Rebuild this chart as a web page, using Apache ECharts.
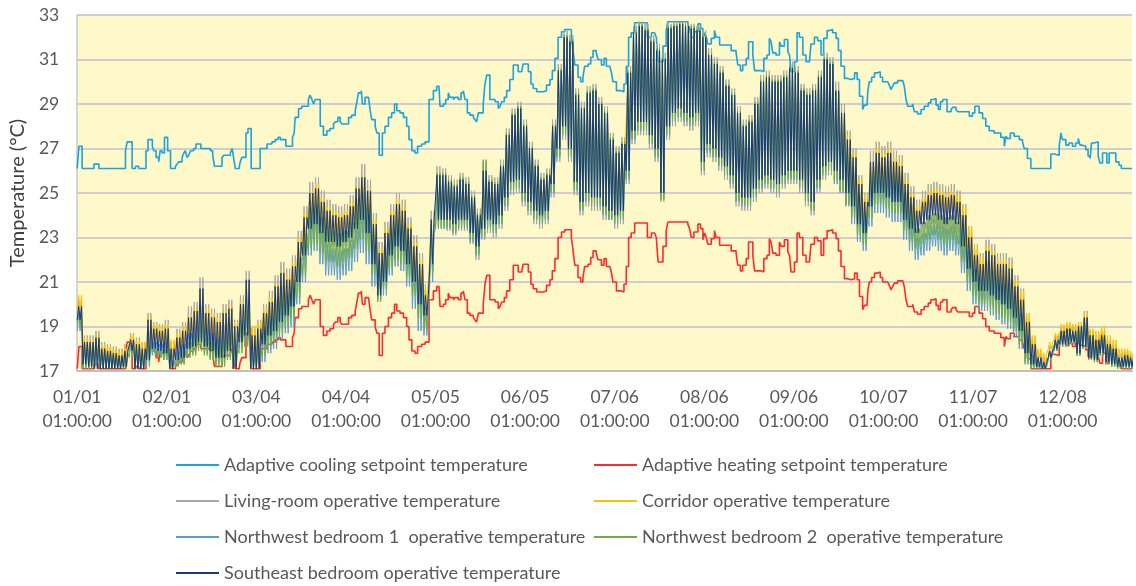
<!DOCTYPE html>
<html><head><meta charset="utf-8">
<script src="https://cdn.jsdelivr.net/npm/echarts/dist/echarts.min.js"></script>
<style>html,body{margin:0;padding:0;background:#fff}#c{width:1136px;height:586px}</style>
</head><body><div id="c"></div>
<script>
// ---- X axis tick labels (every 31 days, 01:00:00) ----
const tickLabels = ['01/01','02/01','03/04','04/04','05/05','06/05','07/06','08/06','09/06','10/07','11/07','12/08'];
const tickTime = '01:00:00';
const tickStepDays = 31;

// ---- Adaptive setpoints: step changes (day of year, value) ----
const setpointDays = [
0,0.6,1.7,5.8,7.5,16.7,17.3,19.0,20.2,21.3,
23.8,24.5,26.0,26.5,27.3,28.2,28.7,29.4,30.2,31.3,
32.3,34.0,34.6,35.1,36.3,36.9,37.4,38.0,38.6,39.2,
40.3,41.1,42.8,46.1,46.9,47.5,50.1,50.7,53.0,53.6,
54.1,54.7,56.1,56.4,57.0,58.4,59.1,60.2,63.3,65.7,
67.4,68.5,69.5,70.3,72.2,74.5,75.1,75.4,76.6,77.7,
80.0,80.6,81.2,81.8,82.4,84.1,85.2,86.4,87.5,88.7,
89.3,90.2,91.0,91.6,93.9,95.0,96.2,96.8,97.3,98.3,
98.7,99.6,100.8,101.4,101.9,103.1,103.7,104.5,105.6,106.5,
107.7,108.8,109.8,110.6,111.7,112.9,114.0,114.8,115.8,116.9,
117.8,119.2,120.4,121.75,123.25,124.4,125.2,125.55,126.7,127.5,
128.4,129.0,130.2,130.7,131.9,132.8,133.6,134.2,135.0,135.9,
137.1,137.6,138.2,138.8,140.5,141.1,141.7,142.8,144.6,145.7,
146.3,146.9,147.8,148.6,149.7,150.9,152.6,153.8,154.3,156.1,
157.0,157.8,159.0,161.3,162.4,163.6,164.4,165.3,166.4,167.6,
168.7,171.0,171.6,172.2,173.3,174.2,175.0,175.6,176.8,177.7,
178.5,179.6,180.2,181.4,182.3,183.1,184.3,184.8,185.4,186.6,
188.3,189.2,190.0,190.8,191.7,192.9,197.3,198.7,199.8,200.4,
201.0,202.7,203.8,204.4,211.3,211.9,212.5,213.4,214.8,215.7,
216.5,217.1,217.7,218.2,219.4,220.5,221.1,222.3,226.3,228.0,
228.6,229.5,230.3,231.5,232.3,233.8,234.4,236.7,237.6,238.7,
239.5,240.1,240.7,241.8,243.0,243.6,244.7,245.9,246.5,247.0,
248.2,249.1,249.9,251.1,252.2,253.4,253.9,255.1,256.2,257.4,
258.3,259.5,260.3,261.4,262.6,263.4,264.3,265.5,266.6,267.8,
269.0,269.9,270.7,271.8,272.4,273.3,273.6,274.1,274.9,275.9,
277.0,277.9,278.7,280.5,281.0,281.6,282.2,282.8,283.9,285.7,
286.2,286.8,287.4,289.1,289.7,290.8,292.0,293.1,294.5,295.4,
296.4,297.2,298.0,298.7,299.5,301.0,302.4,302.9,304.1,304.7,
308.7,309.8,310.6,312.1,313.3,314.4,315.6,317.3,319.6,320.8,
321.4,321.9,322.9,324.2,326.0,327.1,327.7,328.8,330.0,336.9,
338.0,339.8,340.4,340.9,342.1,343.2,344.4,345.5,346.4,347.0,
347.8,349.0,349.8,350.5,351.0,351.9,353.3,353.9,354.8,356.3,
357.1,359.4,360.5,361.3,365];

const coolingSetpoint = [
26.1,27.1,26.1,26.3,26.1,26.9,27.3,26.1,26.2,26.1,
26.9,27.4,27.1,26.9,26.6,26.4,26.9,26.8,27.5,26.9,
26.1,26.2,26.3,26.4,26.6,26.8,26.9,26.6,26.7,26.9,
27.0,27.2,27.0,26.9,26.7,26.2,26.6,26.7,26.8,27.0,
26.6,26.1,26.2,26.4,26.6,27.7,27.9,26.1,27.0,27.2,
27.3,27.4,27.5,27.4,27.1,27.5,27.7,28.4,28.8,28.9,
29.2,29.4,29.2,29.0,29.2,28.0,27.6,27.8,27.9,28.1,
28.2,28.4,28.2,28.1,28.4,28.5,28.7,29.1,29.5,29.6,
29.0,29.3,29.25,28.7,28.3,28.0,27.7,26.7,27.7,28.0,
28.4,28.6,29.0,28.7,28.6,28.4,28.0,27.4,26.9,26.8,
27.1,27.2,27.3,29.2,29.6,29.8,29.85,28.9,29.0,29.2,
29.5,29.3,29.2,29.3,29.2,29.5,29.6,29.2,28.6,28.5,
28.4,28.3,28.2,28.6,29.0,29.9,30.3,29.2,29.1,28.8,
28.9,29.1,29.3,29.6,30.1,30.75,30.45,30.4,30.8,30.45,
29.9,29.7,29.55,29.6,29.85,30.1,30.5,31.05,32.0,32.25,
32.35,32.0,31.4,30.75,30.2,30.0,30.2,30.7,30.8,31.1,
31.4,31.3,31.0,30.75,31.05,30.7,30.75,30.45,30.0,29.6,
29.55,29.9,30.7,32.0,32.2,32.65,32.0,32.2,32.25,32.0,
30.9,31.6,32.3,32.7,32.6,32.4,32.0,32.25,32.6,32.4,
31.9,32.2,32.0,31.7,31.95,32.3,32.0,31.65,31.4,31.3,
30.75,30.5,30.75,31.05,31.8,31.2,30.5,30.45,31.05,31.2,
31.95,31.8,31.3,31.2,31.8,31.6,31.9,31.35,31.2,30.45,
30.9,32.2,32.0,31.2,30.9,30.95,31.7,32.0,31.85,31.2,
31.95,32.3,32.35,32.2,31.95,31.4,30.7,30.15,30.1,30.15,
30.4,30.1,29.35,28.75,28.95,29.0,29.6,30.0,30.2,30.4,
30.45,30.2,30.0,29.95,29.85,29.65,29.8,29.95,30.05,30.0,
29.8,29.2,28.9,29.0,28.65,28.55,28.75,28.9,29.05,29.2,
29.25,28.95,28.75,29.1,29.2,28.65,28.75,28.85,28.75,28.65,
28.45,28.6,28.9,28.6,28.35,28.0,27.8,27.7,27.5,27.1,
27.55,27.45,27.7,27.55,27.4,27.3,27.0,26.55,26.1,26.75,
26.7,27.1,27.7,27.4,27.15,27.25,27.1,27.25,27.45,27.15,
27.1,26.95,26.65,26.55,27.25,27.3,26.65,26.35,26.8,26.35,
26.8,26.4,26.25,26.1,26.1];

const heatingSetpoint = [
17.1,18.1,17.1,17.3,17.1,17.9,18.3,17.1,17.2,17.1,
17.9,18.4,18.1,17.9,17.6,17.4,17.9,17.8,18.5,17.9,
17.1,17.2,17.3,17.4,17.6,17.8,17.9,17.6,17.7,17.9,
18.0,18.2,18.0,17.9,17.7,17.2,17.6,17.7,17.8,18.0,
17.6,17.1,17.2,17.4,17.6,18.7,18.9,17.1,18.0,18.2,
18.3,18.4,18.5,18.4,18.1,18.5,18.7,19.4,19.8,19.9,
20.2,20.4,20.2,20.0,20.2,19.0,18.6,18.8,18.9,19.1,
19.2,19.4,19.2,19.1,19.4,19.5,19.7,20.1,20.5,20.6,
20.0,20.3,20.25,19.7,19.3,19.0,18.7,17.7,18.7,19.0,
19.4,19.6,20.0,19.7,19.6,19.4,19.0,18.4,17.9,17.8,
18.1,18.2,18.3,20.2,20.6,20.8,20.85,19.9,20.0,20.2,
20.5,20.3,20.2,20.3,20.2,20.5,20.6,20.2,19.6,19.5,
19.4,19.3,19.2,19.6,20.0,20.9,21.3,20.2,20.1,19.8,
19.9,20.1,20.3,20.6,21.1,21.75,21.45,21.4,21.8,21.45,
20.9,20.7,20.55,20.6,20.85,21.1,21.5,22.05,23.0,23.25,
23.35,23.0,22.4,21.75,21.2,21.0,21.2,21.7,21.8,22.1,
22.4,22.3,22.0,21.75,22.05,21.7,21.75,21.45,21.0,20.6,
20.55,20.9,21.7,23.0,23.2,23.65,23.0,23.2,23.25,23.0,
21.9,22.6,23.3,23.7,23.6,23.4,23.0,23.25,23.6,23.4,
22.9,23.2,23.0,22.7,22.95,23.3,23.0,22.65,22.4,22.3,
21.75,21.5,21.75,22.05,22.8,22.2,21.5,21.45,22.05,22.2,
22.95,22.8,22.3,22.2,22.8,22.6,22.9,22.35,22.2,21.45,
21.9,23.2,23.0,22.2,21.9,21.95,22.7,23.0,22.85,22.2,
22.95,23.3,23.35,23.2,22.95,22.4,21.7,21.15,21.1,21.15,
21.4,21.1,20.35,19.75,19.95,20.0,20.6,21.0,21.2,21.4,
21.45,21.2,21.0,20.95,20.85,20.65,20.8,20.95,21.05,21.0,
20.8,20.2,19.9,20.0,19.65,19.55,19.75,19.9,20.05,20.2,
20.25,19.95,19.75,20.1,20.2,19.65,19.75,19.85,19.75,19.65,
19.45,19.6,19.9,19.6,19.35,19.0,18.8,18.7,18.5,18.1,
18.55,18.45,18.7,18.55,18.4,18.3,18.0,17.55,17.1,17.75,
17.7,18.1,18.7,18.4,18.15,18.25,18.1,18.25,18.45,18.15,
18.1,17.95,17.65,17.55,18.25,18.3,17.65,17.35,17.8,17.35,
17.8,17.4,17.25,17.1,17.1];

// ---- Room operative temperatures: daily minimum / maximum read per 2-day block ----
const roomBlockDays = 2;

const livingLow = [
19.2,17.2,17.1,17.1,17.1,17.1,17.1,17.1,17.2,17.8,
17.1,17.1,17.4,17.9,17.8,17.7,17.1,17.4,17.5,17.9,
18.0,18.1,18.0,17.8,17.5,17.5,17.8,17.1,18.2,18.4,
17.1,17.1,18.0,18.4,18.6,19.0,19.3,19.7,20.8,22.0,
23.2,23.4,23.0,22.6,22.6,22.4,22.6,22.8,23.2,23.6,
23.0,21.5,20.2,20.8,22.0,22.4,22.2,21.6,20.8,19.8,
19.3,21.5,23.4,23.4,23.3,23.1,23.3,23.3,22.7,22.0,
22.9,23.2,23.0,23.4,24.2,24.9,25.0,24.4,24.0,23.6,
23.4,23.6,24.8,26.4,27.4,26.4,24.9,24.0,24.4,24.2,
24.2,23.8,23.8,23.4,23.6,25.4,27.2,27.6,27.6,27.0,
26.4,24.6,27.4,28.0,28.2,28.0,27.8,28.0,25.8,26.6,
26.4,26.0,25.6,25.2,24.4,24.2,24.2,24.6,25.0,25.2,
25.0,24.8,25.2,25.4,25.4,25.0,24.4,24.0,25.0,25.6,
25.8,25.5,25.1,24.5,23.9,23.1,22.7,23.9,24.5,24.5,
24.3,24.1,24.1,23.3,22.9,22.8,23.2,23.4,23.6,23.4,
23.2,23.4,23.2,22.2,21.2,20.6,20.2,20.2,20.0,19.8,
19.7,19.5,19.1,18.5,17.6,17.2,17.1,17.1,17.5,17.9,
18.1,18.1,18.2,17.7,18.0,17.5,17.4,17.7,17.3,17.2,
17.1,17.1,17.1];
const livingHigh = [
20.2,18.6,18.6,18.8,18.3,18.2,18.1,18.0,18.2,18.7,
18.5,18.3,19.6,19.2,19.1,19.3,18.3,18.9,19.2,19.9,
20.1,21.2,20.0,19.8,19.6,20.0,20.2,19.3,20.4,21.5,
18.9,19.3,20.0,20.6,21.3,21.9,21.6,22.2,23.3,24.4,
25.5,25.7,25.1,24.7,24.5,24.4,24.5,24.9,25.7,26.3,
25.6,24.1,22.8,23.7,24.5,25.0,24.7,23.9,23.1,22.3,
20.9,24.2,26.2,26.1,25.8,25.6,25.9,25.7,25.1,24.3,
26.4,25.8,25.7,26.5,27.9,28.8,29.1,28.3,27.3,26.5,
25.9,26.1,28.3,30.8,32.3,32.1,29.7,29.1,29.8,29.9,
29.3,28.9,27.7,27.1,27.5,30.7,32.5,32.7,32.6,32.1,
31.7,31.3,32.6,32.7,32.7,32.7,32.6,32.5,32.3,31.5,
31.1,30.7,30.1,29.7,28.9,28.3,28.5,29.3,30.3,30.5,
30.3,30.3,30.5,30.9,30.7,29.9,29.7,29.9,30.5,31.3,
31.1,30.0,29.0,27.8,27.0,25.8,25.0,26.9,27.3,27.1,
27.3,26.9,26.7,25.9,25.3,24.7,25.1,25.4,25.5,25.4,
25.3,25.4,25.1,24.5,23.5,22.7,22.3,22.9,22.7,22.3,
22.3,22.1,21.3,20.7,19.6,18.5,17.8,17.6,18.1,18.6,
19.0,19.1,19.0,19.2,19.7,18.8,18.6,18.8,18.4,18.2,
17.8,17.9,17.8];

const corridorLow = [
19.8,17.7,17.6,17.6,17.5,17.5,17.5,17.4,17.5,18.2,
17.5,17.5,18.0,18.5,18.4,18.3,17.6,18.0,18.1,18.5,
18.6,18.8,18.6,18.4,18.1,18.1,18.4,17.6,18.8,19.1,
17.6,17.6,18.7,19.1,19.3,19.7,20.0,20.4,21.5,22.7,
23.9,24.1,23.7,23.3,23.3,23.1,23.3,23.5,23.9,24.3,
23.7,22.3,20.9,21.5,22.7,23.1,22.9,22.3,21.5,20.5,
20.0,22.3,24.4,24.6,24.6,24.4,24.6,24.6,24.0,23.4,
24.2,24.6,24.4,24.8,25.6,26.3,26.4,25.8,25.4,25.0,
24.8,25.0,26.2,27.8,28.8,27.8,26.3,25.4,25.8,25.6,
25.6,25.2,25.0,24.8,25.0,26.8,28.6,29.0,29.0,28.4,
27.8,26.0,28.8,29.4,29.6,29.4,29.2,29.4,27.4,28.0,
27.8,27.4,27.0,26.6,25.8,25.6,25.6,26.0,26.4,26.6,
26.4,26.2,26.6,26.8,26.8,26.4,25.8,25.4,26.4,27.0,
27.2,26.8,26.4,25.8,25.2,24.4,23.9,25.0,25.6,25.6,
25.4,25.2,25.2,24.4,24.0,23.8,24.2,24.4,24.6,24.4,
24.2,24.4,24.2,23.4,22.4,21.6,21.2,21.2,21.0,20.8,
20.6,20.4,20.0,19.6,18.6,17.9,17.6,17.4,18.0,18.4,
18.6,18.7,18.8,18.3,18.6,18.1,18.0,18.3,17.9,17.8,
17.6,17.6,17.5];
const corridorHigh = [
20.4,18.5,18.4,18.6,18.2,18.1,18.0,17.9,18.1,18.6,
18.4,18.3,19.4,19.1,19.0,19.1,18.4,18.7,19.0,19.5,
19.8,20.6,19.8,19.6,19.4,19.7,19.9,19.2,20.1,20.9,
19.0,19.2,19.8,20.3,20.9,21.5,21.3,21.9,23.0,24.1,
25.1,25.4,24.8,24.4,24.2,24.1,24.2,24.6,25.3,25.7,
25.2,23.8,22.5,23.4,24.2,24.7,24.4,23.6,22.8,22.0,
20.8,23.6,25.4,25.3,25.0,24.9,25.1,25.0,24.4,23.8,
25.4,25.1,25.0,25.7,27.0,27.8,28.1,27.4,26.5,25.8,
25.3,25.4,27.4,29.8,31.3,31.1,28.8,28.2,28.9,29.0,
28.4,28.0,26.9,26.4,26.8,29.7,31.5,31.8,31.6,31.2,
30.8,30.4,31.7,31.8,31.9,31.8,31.7,31.6,31.4,30.6,
30.2,29.8,29.2,28.8,28.0,27.5,27.6,28.4,29.4,29.6,
29.4,29.4,29.6,30.0,29.8,29.0,28.8,29.0,29.6,30.4,
30.2,29.4,28.6,27.6,26.8,25.6,24.9,26.4,27.0,26.8,
27.0,26.6,26.4,25.6,25.0,24.4,24.8,25.1,25.2,25.1,
25.0,25.1,24.9,24.4,23.5,22.6,22.1,22.6,22.4,22.0,
22.0,21.8,21.1,20.6,19.6,18.6,18.0,17.8,18.3,18.7,
19.1,19.2,19.1,19.2,19.6,18.9,18.8,19.0,18.6,18.4,
18.0,18.0,17.9];

const nwBed1Low = [
18.8,17.1,17.1,17.1,17.1,17.1,17.1,17.1,17.1,17.7,
17.1,17.1,17.2,17.7,17.6,17.5,17.1,17.2,17.3,17.7,
17.8,18.0,17.8,17.6,17.3,17.3,17.6,17.1,18.0,18.3,
17.1,17.1,17.4,17.8,18.0,18.4,18.7,19.0,20.0,21.0,
22.2,22.4,21.8,21.3,21.3,21.1,21.3,21.5,21.9,22.3,
21.8,20.8,20.2,20.4,21.3,21.7,21.5,20.8,19.8,18.8,
18.6,21.0,23.4,23.4,23.4,23.2,23.4,23.4,22.8,22.2,
23.0,23.4,23.2,23.6,24.4,25.1,25.2,24.6,24.2,23.8,
23.6,23.8,25.0,26.6,27.6,26.6,25.1,24.2,24.6,24.4,
24.4,24.0,23.8,23.6,23.8,25.6,27.4,27.8,27.8,27.2,
26.6,24.8,27.6,28.2,28.4,28.2,28.0,28.2,26.0,26.8,
26.6,26.2,25.8,25.4,24.6,24.4,24.4,24.8,25.2,25.4,
25.2,25.0,25.4,25.6,25.6,25.2,24.6,24.2,25.2,25.8,
26.0,25.4,25.0,24.4,23.6,22.8,22.4,23.5,24.1,24.1,
23.9,23.7,23.7,22.9,22.4,22.0,22.2,22.4,22.6,22.4,
22.2,22.4,22.2,21.4,20.6,20.0,19.7,19.7,19.5,19.3,
19.1,18.9,18.5,18.0,17.3,17.1,17.1,17.1,17.5,17.9,
18.1,18.1,18.2,17.7,18.0,17.5,17.4,17.7,17.3,17.2,
17.1,17.1,17.1];
const nwBed1High = [
19.6,18.2,18.2,18.4,17.9,17.8,17.7,17.6,17.8,18.3,
18.0,17.8,18.6,18.3,18.2,18.3,17.5,17.9,18.2,18.7,
19.0,19.9,18.9,18.7,18.5,18.9,19.1,18.4,19.3,20.3,
18.1,18.3,18.8,19.3,20.0,20.6,20.3,20.9,21.8,22.8,
23.9,24.1,23.3,22.7,22.5,22.4,22.5,22.9,23.7,24.3,
23.8,22.7,21.8,22.3,23.1,23.6,23.3,22.4,21.6,20.8,
19.6,23.2,25.6,25.6,25.3,25.1,25.4,25.2,24.6,23.8,
25.8,25.3,25.2,26.0,27.4,28.3,28.6,27.8,26.8,26.0,
25.4,25.6,27.8,30.3,31.8,31.6,29.2,28.6,29.3,29.4,
28.8,28.4,27.2,26.6,27.0,30.2,32.0,32.3,32.1,31.6,
31.2,30.8,32.2,32.3,32.4,32.3,32.2,32.1,31.8,31.0,
30.6,30.2,29.6,29.2,28.4,27.8,28.0,28.8,29.8,30.0,
29.8,29.8,30.0,30.4,30.2,29.4,29.2,29.4,30.0,30.8,
30.4,29.2,28.0,26.8,26.0,24.8,24.0,25.6,26.0,25.8,
26.0,25.6,25.4,24.6,23.8,23.0,23.2,23.5,23.6,23.5,
23.4,23.5,23.2,22.8,22.0,21.3,20.9,21.5,21.3,20.9,
20.9,20.7,19.9,19.3,18.3,17.5,17.3,17.2,17.8,18.3,
18.7,18.8,18.7,18.9,19.3,18.5,18.3,18.5,18.1,17.9,
17.5,17.6,17.5];

const nwBed2Low = [
19.0,17.1,17.1,17.1,17.1,17.1,17.1,17.1,17.1,17.6,
17.1,17.1,17.4,17.8,17.6,17.5,17.1,17.2,17.3,17.6,
17.7,17.9,17.7,17.5,17.2,17.2,17.5,17.1,17.8,18.1,
17.1,17.1,17.7,18.1,18.3,18.7,19.0,19.4,20.3,21.3,
22.5,22.7,22.3,21.9,21.9,21.7,21.9,22.1,22.5,22.9,
22.4,21.4,20.1,20.7,21.6,22.0,21.8,21.2,20.4,19.4,
18.9,21.4,23.5,23.5,23.5,23.3,23.5,23.5,22.9,22.3,
23.1,23.5,23.3,23.7,24.5,25.2,25.3,24.7,24.3,23.9,
23.7,23.9,25.1,26.7,27.7,26.7,25.2,24.3,24.7,24.5,
24.5,24.1,23.9,23.7,23.9,25.7,27.5,27.9,27.9,27.3,
26.7,24.7,27.7,28.3,28.5,28.3,28.1,28.3,26.1,26.9,
26.7,26.3,25.9,25.5,24.7,24.5,24.5,24.9,25.3,25.5,
25.3,25.1,25.5,25.7,25.7,25.3,24.7,24.3,25.3,25.9,
26.1,25.6,25.1,24.5,23.9,23.1,22.7,23.9,24.5,24.5,
24.3,24.1,24.1,23.3,22.8,22.5,22.7,22.9,23.1,22.9,
22.7,22.9,22.7,21.9,21.0,20.4,20.0,20.0,19.8,19.6,
19.4,19.2,18.8,18.2,17.4,17.1,17.1,17.1,17.5,17.9,
18.1,18.1,18.2,17.7,18.0,17.5,17.4,17.7,17.3,17.2,
17.1,17.1,17.1];
const nwBed2High = [
19.7,18.2,18.2,18.4,17.9,17.8,17.7,17.6,17.8,18.3,
18.0,17.8,18.3,18.0,17.9,18.0,17.4,17.6,17.9,18.3,
18.6,19.4,18.5,18.3,18.1,18.5,18.7,18.0,19.0,19.8,
17.8,18.0,19.0,19.5,20.2,20.8,20.5,21.1,22.1,23.2,
24.3,24.5,23.9,23.5,23.3,23.2,23.3,23.7,24.5,25.0,
24.4,23.3,22.0,22.6,23.4,23.9,23.6,22.8,22.0,21.2,
19.9,23.6,25.9,25.9,25.6,25.4,25.7,25.5,24.9,24.1,
26.5,25.6,25.5,26.3,27.7,28.6,28.9,28.1,27.1,26.3,
25.7,25.9,28.1,30.6,32.1,31.9,29.5,28.9,29.6,29.7,
29.1,28.7,27.5,26.9,27.3,30.5,32.3,32.6,32.4,31.9,
31.5,31.1,32.5,32.6,32.7,32.6,32.5,32.4,32.1,31.3,
30.9,30.5,29.9,29.5,28.7,28.1,28.3,29.1,30.1,30.3,
30.1,30.1,30.3,30.7,30.5,29.7,29.5,29.7,30.3,31.1,
30.9,29.5,28.3,27.0,26.2,25.0,24.2,26.0,26.4,26.2,
26.4,26.0,25.8,25.0,24.2,23.4,23.7,24.0,24.1,24.0,
23.9,24.0,23.7,23.4,22.4,21.6,21.2,21.8,21.6,21.2,
21.2,21.0,20.2,19.6,18.6,17.7,17.4,17.3,17.9,18.4,
18.8,18.9,18.8,19.0,19.4,18.6,18.4,18.6,18.2,18.0,
17.6,17.7,17.6];

const seBedLow = [
19.3,17.3,17.2,17.1,17.1,17.1,17.1,17.1,17.2,17.9,
17.1,17.1,17.5,18.0,17.9,17.8,17.1,17.5,17.6,18.0,
18.1,18.3,18.1,17.9,17.6,17.6,17.9,17.1,18.3,18.6,
17.1,17.1,18.2,18.6,18.8,19.2,19.5,19.9,21.0,22.2,
23.4,23.6,23.2,22.8,22.8,22.6,22.8,23.0,23.4,23.8,
23.2,21.8,20.4,21.0,22.2,22.6,22.4,21.8,21.0,20.0,
19.5,21.8,23.8,23.8,23.8,23.6,23.8,23.8,23.2,22.6,
23.4,23.8,23.6,24.0,24.8,25.5,25.6,25.0,24.6,24.2,
24.0,24.2,25.4,27.0,28.0,27.0,25.5,24.6,25.0,24.8,
24.8,24.4,24.2,24.0,24.2,26.0,27.8,28.2,28.2,27.6,
27.0,25.0,28.0,28.6,28.8,28.6,28.4,28.6,26.4,27.2,
27.0,26.6,26.2,25.8,25.0,24.8,24.8,25.2,25.6,25.8,
25.6,25.4,25.8,26.0,26.0,25.6,25.0,24.6,25.6,26.2,
26.4,26.0,25.6,25.0,24.4,23.6,23.2,24.4,25.0,25.0,
24.8,24.6,24.6,23.8,23.4,23.2,23.6,23.8,24.0,23.8,
23.6,23.8,23.6,22.6,21.6,21.0,20.6,20.6,20.4,20.2,
20.0,19.8,19.4,18.8,17.8,17.3,17.2,17.1,17.6,18.0,
18.2,18.2,18.3,17.8,18.1,17.6,17.5,17.8,17.4,17.3,
17.2,17.2,17.2];
const seBedHigh = [
19.9,18.3,18.3,18.5,18.0,17.9,17.8,17.7,17.9,18.4,
18.2,18.0,19.3,18.9,18.8,18.9,18.0,18.5,18.8,19.4,
19.7,20.7,19.6,19.4,19.2,19.6,19.8,19.0,20.0,21.1,
18.6,18.9,19.6,20.1,20.8,21.4,21.1,21.7,22.8,23.9,
25.0,25.2,24.6,24.2,24.0,23.9,24.0,24.4,25.2,25.7,
25.1,23.6,22.3,23.2,24.0,24.5,24.2,23.4,22.6,21.8,
20.4,23.8,25.8,25.8,25.5,25.3,25.6,25.4,24.8,24.0,
26.0,25.5,25.4,26.2,27.6,28.5,28.8,28.0,27.0,26.2,
25.6,25.8,28.0,30.5,32.0,31.8,29.4,28.8,29.5,29.6,
29.0,28.6,27.4,26.8,27.2,30.4,32.2,32.5,32.3,31.8,
31.4,31.0,32.4,32.5,32.6,32.5,32.4,32.3,32.0,31.2,
30.8,30.4,29.8,29.4,28.6,28.0,28.2,29.0,30.0,30.2,
30.0,30.0,30.2,30.6,30.4,29.6,29.4,29.6,30.2,31.0,
30.8,29.6,28.6,27.4,26.6,25.4,24.6,26.4,26.8,26.6,
26.8,26.4,26.2,25.4,24.8,24.2,24.6,24.9,25.0,24.9,
24.8,24.9,24.6,24.0,23.0,22.2,21.8,22.4,22.2,21.8,
21.8,21.6,20.8,20.2,19.2,18.2,17.6,17.4,17.9,18.4,
18.8,18.9,18.8,19.0,19.4,18.6,18.4,18.6,18.2,18.0,
17.6,17.7,17.6];

// ---- build series data from the arrays above ----
function stepSeries(values) {
  return setpointDays.map((d, i) => [d, values[i]]);
}
// each block holds its days' minimum/maximum; one min and one max per day
function daily(lows, highs) {
  const out = [];
  for (let i = 0; i < lows.length; i++) {
    for (let d = 0; d < roomBlockDays; d++) {
      const day = i * roomBlockDays + d;
      if (day > 365) break;
      out.push([day, lows[i]]);
      out.push([day + 0.5, highs[i]]);
    }
  }
  return out;
}

const names = {
  cool: 'Adaptive cooling setpoint temperature',
  heat: 'Adaptive heating setpoint temperature',
  living: 'Living-room operative temperature',
  corridor: 'Corridor operative temperature',
  nw1: 'Northwest bedroom 1  operative temperature',
  nw2: 'Northwest bedroom 2  operative temperature',
  se: 'Southeast bedroom operative temperature'
};
const colors = {
  cool: '#19A3E0', heat: '#FF2B2B', living: '#A6A6A6', corridor: '#FFC000',
  nw1: '#5B9BD5', nw2: '#70AD47', se: '#1B3A78'
};

function line(key, data, width, step) {
  const s = {
    name: names[key], type: 'line', data: data, showSymbol: false, symbol: 'none',
    lineStyle: { color: colors[key], width: width }, itemStyle: { color: colors[key] },
    animation: false, silent: true
  };
  if (step) s.step = 'end';
  return s;
}

const FONT = 'Lato, "Liberation Sans", sans-serif';
const chart = echarts.init(document.getElementById('c'), null, { renderer: 'canvas' });

// legend: two columns, four rows
const legendSlots = [
  ['cool', 176, 465], ['heat', 594, 465],
  ['living', 176, 501], ['corridor', 594, 501],
  ['nw1', 176, 537], ['nw2', 594, 537],
  ['se', 176, 573]
];
const legends = legendSlots.map(([k, x, yc]) => ({
  orient: 'horizontal', icon: 'rect', itemWidth: 43, itemHeight: 2, padding: 0,
  left: x, top: yc - 10, selectedMode: false, data: [names[k]],
  textStyle: { color: '#595959', fontSize: 18, fontFamily: FONT, lineHeight: 20 }
}));

chart.setOption({
  animation: false,
  backgroundColor: '#ffffff',
  textStyle: { fontFamily: FONT },
  grid: { left: 75, right: 4, top: 15, bottom: 215, show: true, backgroundColor: '#FFF8C8', borderWidth: 0 },
  legend: legends,
  xAxis: {
    type: 'value', min: 0, max: 365, interval: tickStepDays,
    axisLine: { show: true, lineStyle: { color: '#BFBFBF', width: 2 } },
    axisTick: { show: false },
    splitLine: { show: false },
    axisLabel: {
      color: '#595959', fontSize: 17.5, lineHeight: 24, margin: 14, fontFamily: FONT,
      showMaxLabel: false,
      formatter: function (v) {
        const i = Math.round(v / tickStepDays);
        if (Math.abs(v - i * tickStepDays) > 1e-6 || i >= tickLabels.length) return '';
        return tickLabels[i] + '\n' + tickTime;
      }
    }
  },
  yAxis: {
    type: 'value', min: 17, max: 33, interval: 2,
    name: 'Temperature (°C)', nameLocation: 'middle', nameGap: 44, nameRotate: 90,
    nameTextStyle: { color: '#404040', fontSize: 20, fontFamily: FONT },
    axisLine: { show: true, lineStyle: { color: '#C8C8C8', width: 1.5 } },
    axisTick: { show: false },
    splitLine: { show: true, lineStyle: { color: '#CFCCD4', width: 2 } },
    axisLabel: { color: '#595959', fontSize: 17.5, margin: 18, fontFamily: FONT }
  },
  series: [
    line('cool', stepSeries(coolingSetpoint), 1.6, true),
    line('heat', stepSeries(heatingSetpoint), 1.6, true),
    line('living', daily(livingLow, livingHigh), 1),
    line('corridor', daily(corridorLow, corridorHigh), 1),
    line('nw1', daily(nwBed1Low, nwBed1High), 1),
    line('nw2', daily(nwBed2Low, nwBed2High), 1),
    line('se', daily(seBedLow, seBedHigh), 1)
  ]
});
</script></body></html>
